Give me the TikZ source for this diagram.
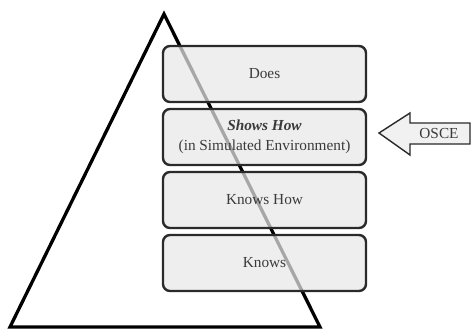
\documentclass[tikz,border=0pt]{standalone}
\usepackage{fontspec}
\setmainfont{Liberation Serif}
\definecolor{boxfill}{HTML}{E8E8E8}
\definecolor{edge}{HTML}{2A2A2A}
\definecolor{txt}{HTML}{3A3A3A}
\begin{document}
\begin{tikzpicture}[x=1pt,y=-1pt,
  level/.style={draw=edge, line width=2.4pt, rounded corners=7pt, fill=boxfill, fill opacity=0.72, text opacity=1,
    minimum width=203pt, minimum height=56pt, inner sep=0pt, align=center, text=txt,
    font=\fontsize{15.3}{20}\selectfont},
  lbl/.style={text=txt, font=\fontsize{15.3}{18}\selectfont}]
\useasboundingbox (0,0) rectangle (472,330);
% triangle
\coordinate (apex) at (164,14);
\coordinate (bl) at (10,327);
\coordinate (br) at (320,327);
\draw[line width=3.3pt, line join=miter] (apex) -- (br) -- (bl) -- cycle;
% levels
\node[level] (does) at (264.5,74) {Does};
\node[level] (shows) at (264.5,137) {\textbf{\textit{Shows How}}\\(in Simulated Environment)};
\node[level] (knowshow) at (264.5,200) {Knows How};
\node[level] (knows) at (264.5,263) {Knows};
% arrow
\draw[draw=edge, line width=1.4pt, fill=boxfill!60, line join=miter]
  (379,133) -- (410,113) -- (410,123) -- (470,123) -- (470,144) -- (410,144) -- (410,155) -- cycle;
\node[lbl] (osce) at (439,134) {OSCE};
\end{tikzpicture}
\end{document}
